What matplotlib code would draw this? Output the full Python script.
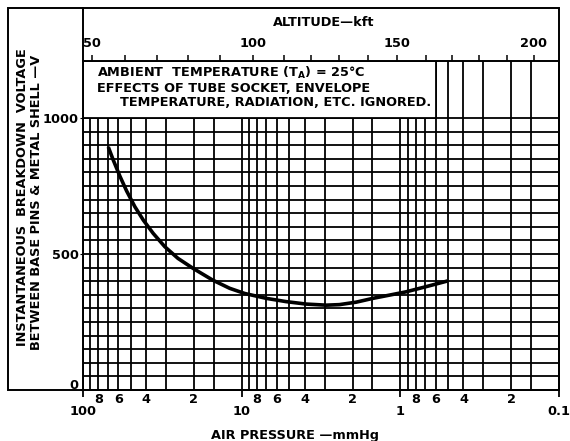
import matplotlib.pyplot as plt
from matplotlib.patches import Rectangle
from matplotlib.lines import Line2D
from matplotlib.transforms import ScaledTranslation

W, H = 570, 441

# breakdown curve (air pressure in mmHg, volts)
pressure = [69.3, 64.5, 58.5, 53.1, 47.1, 41.7, 36.1, 30.5, 25.2, 20.2,
            15.2, 11.9, 9.57, 6.99, 5.24, 3.92, 2.93, 2.42, 1.90, 1.49,
            1.17, 0.921, 0.689, 0.504]
voltage = [894, 846, 786, 732, 674, 625, 576, 527, 484, 447,
           404, 374, 355, 337, 325, 316, 312, 314, 323, 337,
           349, 361, 380, 401]

# grid steps inside each decade of pressure
decade_starts = [10, 1, 0.1]
grid_steps = [1, 1.5, 2, 3, 4, 5, 6, 7, 8, 9]
volt_grid = list(range(0, 1001, 50))

major_ticks = [100, 10, 1, 0.1]
major_labels = ['100', '10', '1', '0.1']
minor_ticks = [80, 60, 40, 20, 8, 6, 4, 2, 0.8, 0.6, 0.4, 0.2]
minor_labels = ['8', '6', '4', '2'] * 3

y_ticks = [0, 500, 1000]

# top scale: altitude (kft) and the pressure (mmHg) where each tick sits
alt_kft = [50, 60, 70, 80, 90, 100, 110, 120, 130, 140, 150, 160, 170, 180, 190, 200]
alt_pressure = [87.8, 54.4, 34.2, 21.9, 13.7, 8.5, 5.44, 3.63, 2.42, 1.61,
                1.05, 0.686, 0.471, 0.318, 0.212, 0.144]

note_lines = [r'AMBIENT  TEMPERATURE (T$_{\mathbf{A}}$) = 25°C',
              'EFFECTS OF TUBE SOCKET, ENVELOPE',
              'TEMPERATURE, RADIATION, ETC. IGNORED.']

FS = 9.3


def fx(x):
    return x / W


def fy(y):
    return 1 - y / H


plt.rcParams['font.family'] = 'DejaVu Sans'
plt.rcParams['font.weight'] = 'bold'

fig = plt.figure(figsize=(W / 100, H / 100), dpi=100)
ax = fig.add_axes([fx(83), fy(390), (559 - 83) / W, (390 - 61) / H])
ax.set_xscale('log')
ax.set_xlim(100, 0.1)
ax.set_ylim(0, 1210)

# grid
vlines = [100] + [d * s for d in decade_starts for s in grid_steps]
for v in vlines:
    ax.axvline(v, color='black', lw=1.3, zorder=1)
for h in volt_grid:
    ax.axhline(h, color='black', lw=1.3, zorder=1)

# white note box above 1000 V
ax.add_patch(Rectangle((100, 1000), 0.6 - 100, 210, facecolor='white',
                       edgecolor='black', lw=1.3, zorder=2))

ax.plot(pressure, voltage, color='black', lw=2.6, zorder=3,
        solid_capstyle='butt', solid_joinstyle='round')

# bottom axis ticks
ax.set_xticks(major_ticks)
ax.set_xticklabels(major_labels)
ax.set_xticks(minor_ticks, minor=True)
ax.set_xticklabels(minor_labels, minor=True)
ax.tick_params(axis='x', which='major', length=5, width=1.3, pad=6, labelsize=FS)
ax.tick_params(axis='x', which='minor', length=0, pad=2, labelsize=FS)

ax.set_yticks(y_ticks)
ax.set_yticklabels([str(t) for t in y_ticks])
ax.tick_params(axis='y', length=2, pad=1, labelsize=FS)
# the "0" sits a little above the bottom line in the original
ax.get_yticklabels()[0].set_transform(
    ax.get_yticklabels()[0].get_transform() + ScaledTranslation(0, 0.06, fig.dpi_scale_trans))

for s in ax.spines.values():
    s.set_linewidth(1.4)

# top axis with altitude
top = ax.twiny()
top.set_xscale('log')
top.set_xlim(100, 0.1)
top.set_xticks(alt_pressure)
top.set_xticklabels([str(a) if a % 50 == 0 else '' for a in alt_kft])
top.minorticks_off()
top.tick_params(axis='x', length=4, width=1.1, pad=4, labelsize=FS)
for s in top.spines.values():
    s.set_visible(False)

# outer frame
fig.add_artist(Rectangle((fx(8), fy(390)), (559 - 8) / W, (390 - 8) / H,
                         fill=False, edgecolor='black', lw=1.4,
                         transform=fig.transFigure))
fig.add_artist(Line2D([fx(83), fx(83)], [fy(61), fy(8)], color='black',
                      lw=1.4, transform=fig.transFigure))

# texts
fig.text(fx(97), fy(73), note_lines[0], fontsize=FS, va='center')
fig.text(fx(97), fy(88), note_lines[1], fontsize=FS, va='center')
fig.text(fx(120), fy(103), note_lines[2], fontsize=FS, va='center')

fig.text(fx(324), fy(22), 'ALTITUDE—kft', fontsize=FS, ha='center', va='center')
fig.text(fx(295), fy(436), 'AIR PRESSURE —mmHg', fontsize=FS, ha='center', va='center')

fig.text(fx(23), fy(197), 'INSTANTANEOUS  BREAKDOWN  VOLTAGE', fontsize=FS,
         rotation=90, ha='center', va='center')
fig.text(fx(37), fy(202), 'BETWEEN BASE PINS & METAL SHELL —V', fontsize=FS,
         rotation=90, ha='center', va='center')

fig.savefig('out.png', dpi=100)
